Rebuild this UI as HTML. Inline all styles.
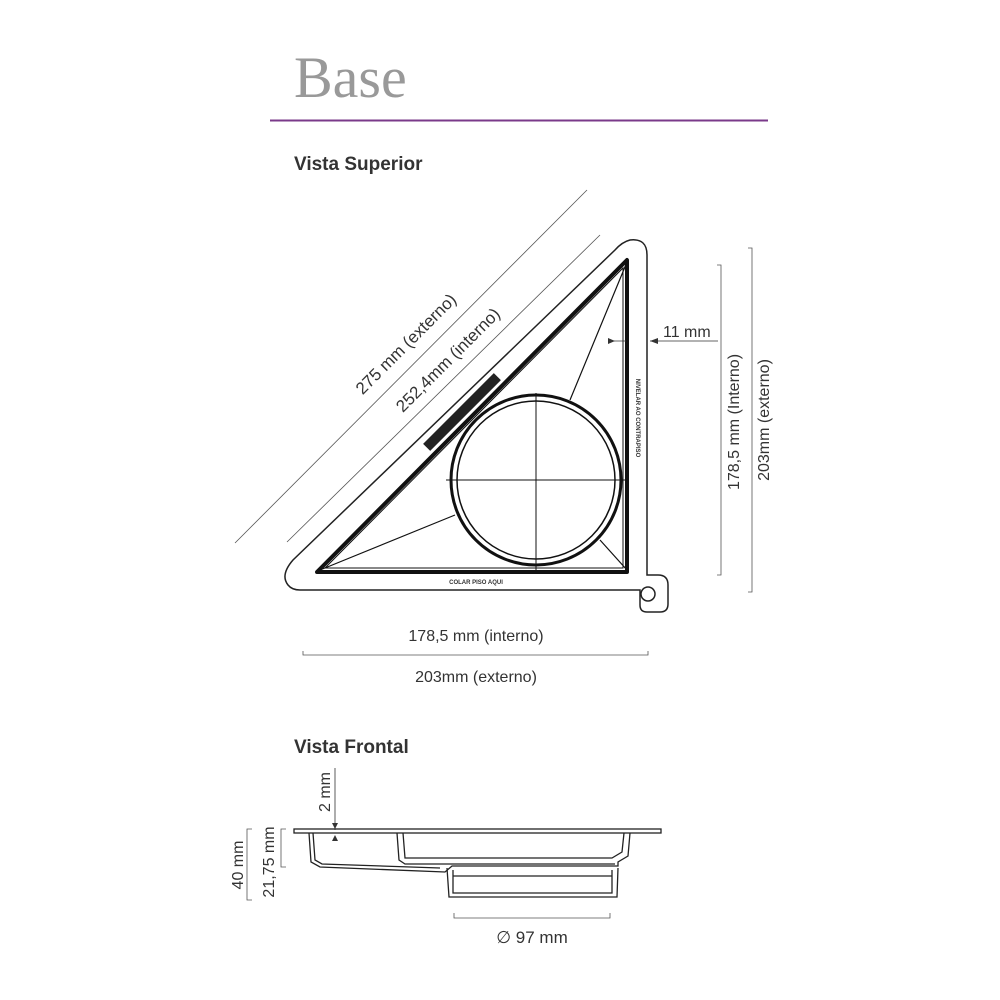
<!DOCTYPE html>
<html><head><meta charset="utf-8"><style>
body{margin:0;background:#fff;width:1000px;height:1000px;overflow:hidden}
svg{display:block}
.t{font-family:"Liberation Sans",sans-serif;fill:#333}
</style></head><body>
<svg width="1000" height="1000" viewBox="0 0 1000 1000">
<text x="294" y="97" font-family="Liberation Serif,serif" font-size="58" fill="#999">Base</text>
<line x1="270" y1="120.5" x2="768" y2="120.5" stroke="#7a3a8a" stroke-width="2"/>
<text x="294" y="170" class="t" font-size="19" font-weight="bold" fill="#333">Vista Superior</text>
<text x="294" y="753" class="t" font-size="19" font-weight="bold" fill="#333">Vista Frontal</text>

<!-- diagonal dims -->
<line x1="235" y1="543" x2="587" y2="190" stroke="#555" stroke-width="0.8"/>
<line x1="287" y1="542" x2="600" y2="235" stroke="#555" stroke-width="0.8"/>
<text class="t" font-size="17" transform="translate(410,348) rotate(-45)" text-anchor="middle">275 mm (externo)</text>
<text class="t" font-size="17" transform="translate(452,364) rotate(-45)" text-anchor="middle">252,4mm (interno)</text>

<!-- outer shape -->
<path d="M300,590 L640,590 L640,605 Q640,612 647,612 L660,612 Q668,612 668,604 L668,585 Q668,575 658,575 L647,575 L647,255 Q647,238 630,240 Q622,242 615,250 L293,560 Q280,575 288,585 Q292,590 300,590 Z" fill="none" stroke="#222" stroke-width="1.5"/>
<circle cx="648" cy="594" r="7" fill="none" stroke="#222" stroke-width="1.5"/>
<!-- inner triangle -->
<path d="M627,260 L627,572 L317,572 Z" fill="none" stroke="#111" stroke-width="4" stroke-linejoin="round"/>
<path d="M623,268 L623,568 L325,568 Z" fill="none" stroke="#111" stroke-width="1"/>
<!-- circle -->
<circle cx="536" cy="480" r="85" fill="none" stroke="#111" stroke-width="3"/>
<circle cx="536" cy="480" r="79" fill="none" stroke="#111" stroke-width="1.5"/>
<line x1="446" y1="480" x2="625" y2="480" stroke="#111" stroke-width="1"/>
<line x1="536" y1="393" x2="536" y2="573" stroke="#111" stroke-width="1"/>
<line x1="627" y1="262" x2="570" y2="400" stroke="#111" stroke-width="1.2"/>
<line x1="320" y1="570" x2="455" y2="515" stroke="#111" stroke-width="1.2"/>
<line x1="600" y1="540" x2="627" y2="570" stroke="#111" stroke-width="1.2"/>
<rect x="-50" y="-5" width="100" height="10" fill="#222" transform="translate(462,412) rotate(-45)"/>
<text class="t" font-size="6" font-weight="bold" fill="#111" x="476" y="584" text-anchor="middle">COLAR PISO AQUI</text>
<text class="t" font-size="6" font-weight="bold" fill="#111" transform="translate(636,418) rotate(90)" text-anchor="middle">NIVELAR AO CONTRAPISO</text>

<!-- 11mm -->
<line x1="608" y1="341" x2="626" y2="341" stroke="#333" stroke-width="0.8"/>
<path d="M608,338 L608,344 L615,341Z" fill="#333"/>
<line x1="650" y1="341" x2="718" y2="341" stroke="#333" stroke-width="0.8"/>
<path d="M650,341 L658,338 L658,344Z" fill="#333"/>
<text class="t" font-size="16" x="663" y="337">11 mm</text>

<!-- right verticals -->
<path d="M717,265 H721 V575 H717" fill="none" stroke="#555" stroke-width="0.8"/>
<path d="M748,248 H752 V592 H748" fill="none" stroke="#555" stroke-width="0.8"/>
<text class="t" font-size="16" transform="translate(739,422) rotate(-90)" text-anchor="middle">178,5 mm (Interno)</text>
<text class="t" font-size="16" transform="translate(769,420) rotate(-90)" text-anchor="middle">203mm (externo)</text>

<!-- bottom horizontal -->
<text class="t" font-size="16" x="476" y="641" text-anchor="middle">178,5 mm (interno)</text>
<path d="M303,651 V655 H648 V651" fill="none" stroke="#555" stroke-width="0.8"/>
<text class="t" font-size="16" x="476" y="682" text-anchor="middle">203mm (externo)</text>

<!-- frontal view -->
<g fill="none" stroke="#222" stroke-width="1.3">
<rect x="294" y="829" width="367" height="4"/>
<path d="M309,833 L311,862 L320,867 L445,872 L452,866 L618,866 L618,862 L628,856 L630,833"/>
<path d="M313,833 L315,860 L322,864 L440,868"/>
<path d="M397,833 L399,860 L405,864 L615,864"/>
<path d="M403,833 L405,858 L612,858 L622,852 L624,833"/>
<path d="M447,868 L449,897 L617,897 L618,868"/>
<path d="M453,870 L453,893 L612,893 L612,870"/>
<line x1="453" y1="876" x2="612" y2="876"/>
</g>
<line x1="335" y1="768" x2="335" y2="830" stroke="#333" stroke-width="0.8"/>
<path d="M332,823 L338,823 L335,829Z" fill="#333"/>
<path d="M332,841 L338,841 L335,835Z" fill="#333"/>
<text class="t" font-size="16" transform="translate(330,792) rotate(-90)" text-anchor="middle">2 mm</text>
<path d="M252,829 H247 V900 H252" fill="none" stroke="#555" stroke-width="0.8"/>
<path d="M286,829 H281 V867 H286" fill="none" stroke="#555" stroke-width="0.8"/>
<text class="t" font-size="16" transform="translate(243,865) rotate(-90)" text-anchor="middle">40 mm</text>
<text class="t" font-size="16" transform="translate(274,862) rotate(-90)" text-anchor="middle">21,75 mm</text>
<path d="M454,913 V918 H610 V913" fill="none" stroke="#555" stroke-width="0.8"/>
<text class="t" font-size="17" x="532" y="943" text-anchor="middle">∅ 97 mm</text>
</svg>
</body></html>
